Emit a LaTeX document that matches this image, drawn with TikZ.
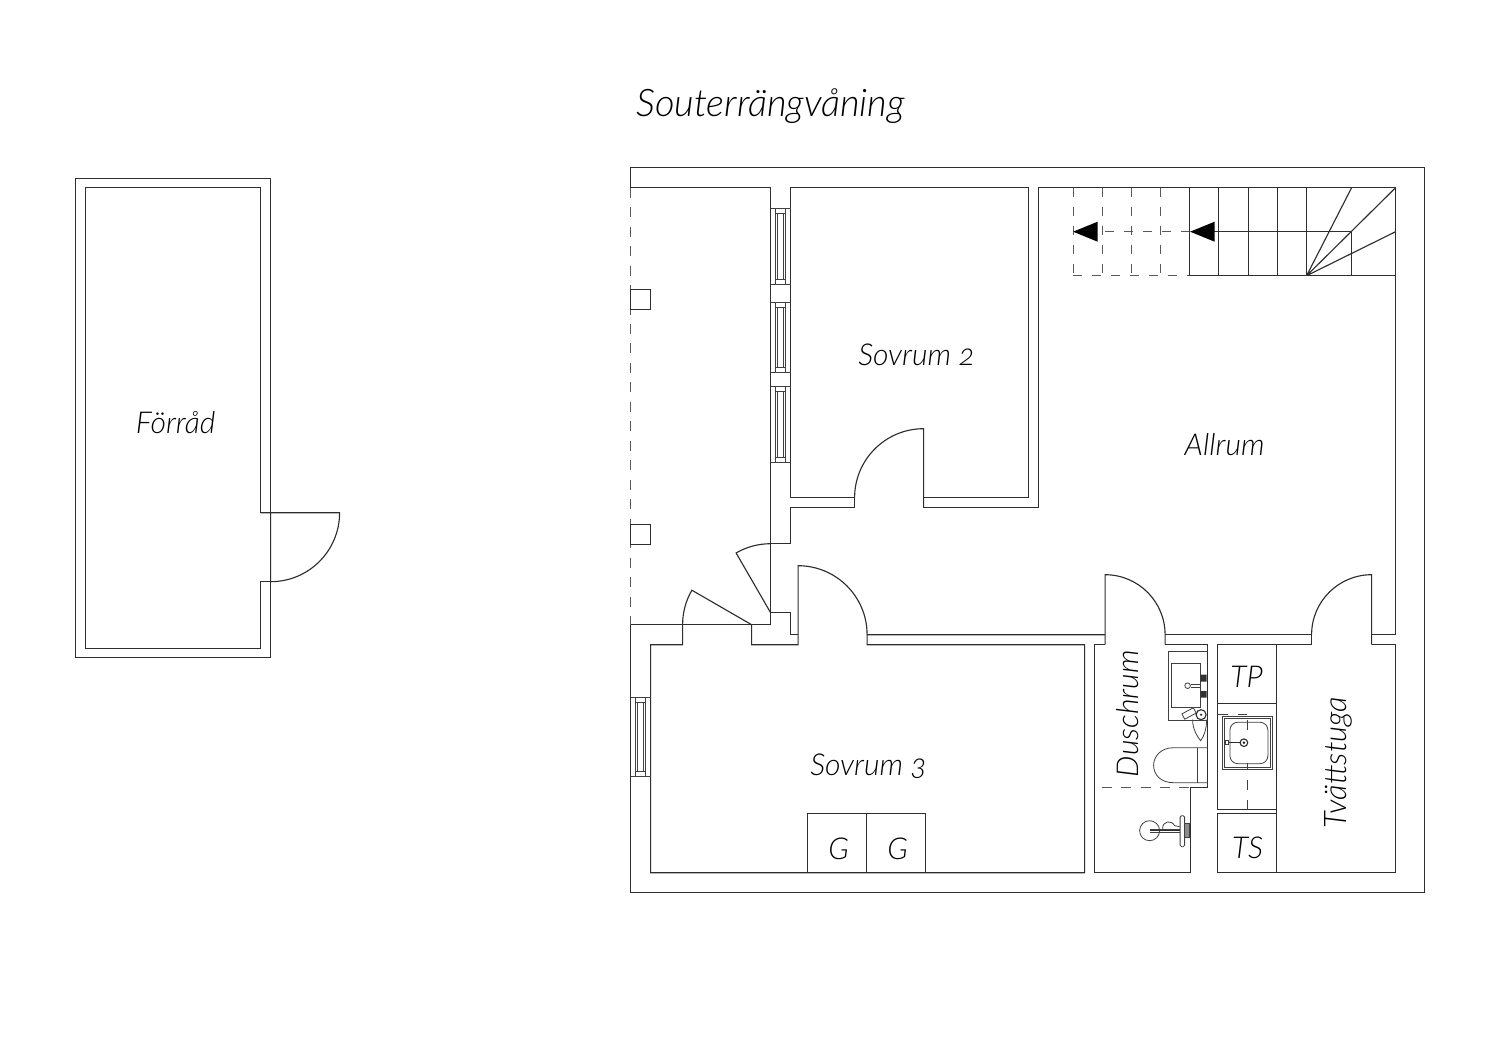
\documentclass[tikz,border=0pt]{standalone}
\usepackage{fontspec}
\setmainfont{Lato}
\newfontfamily\lbl[Numbers=OldStyle]{Lato Light Italic}
\tikzset{
 wall/.style={draw=black!82,line width=0.85pt,line join=miter},
 thin wall/.style={draw=black!75,line width=0.6pt},
 hidden wall/.style={draw=black!65,line width=0.85pt,dash pattern=on 7.5pt off 7.1pt},
 label text/.style={inner sep=0pt,text=black},
 room label/.style={label text,font=\lbl\fontsize{22.6}{24}\selectfont},
}
\newcommand{\fpwin}[3]{% x left, y top, y bottom
 \draw[thin wall] (#1,#2) -- ++(20,0) (#1,#3) -- ++(20,0);
 \draw[thin wall] (#1+5,#2) rectangle (#1+14.5,#3);
 \draw[thin wall] (#1+5,#2+5) -- ++(9.5,0) (#1+5,#3-5) -- ++(9.5,0);
 \draw[thin wall] (#1+7,#2+5) -- (#1+7,#3-5) (#1+12.5,#2+5) -- (#1+12.5,#3-5);
}
\begin{document}
\begin{tikzpicture}[x=0.75pt,y=-0.75pt]
\useasboundingbox (0,0) rectangle (1500,1060);
\fill[white] (0,0) rectangle (1500,1060);
\begin{scope}[shift={(-0.4,-0.3)}]

% --- Forrad
\draw[wall] (271,513) -- (271,179) -- (76,179) -- (76,658) -- (271,658) -- (271,582);
\draw[wall] (261,513) -- (261,188) -- (85.5,188) -- (85.5,648.5) -- (261,648.5) -- (261,582) -- (271,582);
\draw[wall] (261,513) -- (340,513) arc[start angle=0,end angle=90,radius=69] -- (271,513);

% --- Outer shell
\draw[wall] (631,188) -- (631,168) -- (1425,168) -- (1425,893) -- (631,893) -- (631,625);
\draw[hidden wall] (631,188) -- (631,625);
\draw[wall] (631,289.5) rectangle (651,309.5);
\draw[wall] (631,525) rectangle (651,545);

% --- Upper-left room
\draw[wall] (631,188) -- (771,188) -- (771,625) -- (631,625);
\draw[wall] (771,613) -- (791,613) -- (791,635) -- (798.5,635);
\draw[wall] (771,544) -- (791,544) -- (791,508) -- (855,508) -- (855,498) -- (791,498) -- (791,188) -- (1029,188) -- (1029,498) -- (924,498) -- (924,508) -- (1039,508) -- (1039,188) -- (1396,188) -- (1396,635) -- (1372,635);
\draw[wall] (855,498) arc[start angle=180,end angle=270,radius=69] -- (924,508);

% doors of the upper-left room
\draw[wall] (771,613) -- (736.5,553.25) arc[start angle=240,end angle=270,radius=69];
\draw[wall] (752,625) -- (692.25,590.5) arc[start angle=210,end angle=180,radius=69] -- (683,645) -- (651,645) -- (651,873) -- (1085,873) -- (1085,645) -- (867.5,645) -- (867.5,635) -- (1105.5,635);
\draw[wall] (752,625) -- (752,645) -- (798.5,645) -- (798.5,566) arc[start angle=270,end angle=360,radius=69];

% windows
\fpwin{771}{209}{285}
\fpwin{771}{302.5}{373}
\fpwin{771}{387}{463}
\fpwin{631}{698}{777}

% --- Stairs
\draw[hidden wall,dash pattern=on 6.75pt off 7.5pt] (1073.5,276) -- (1190,276);
\draw[hidden wall,dash pattern=on 6.75pt off 7.5pt] (1190,232) -- (1073.5,232);
\foreach \sx in {1073.5,1102.7,1132,1161}{
 \draw[hidden wall,dash pattern=on 6.75pt off 7.5pt] (\sx,188) -- (\sx,276);
}
\foreach \sx in {1190.3,1219.3,1248.7,1278,1307}{
 \draw[wall] (\sx,188) -- (\sx,276);
}
\draw[wall] (1190,276) -- (1396,276);
\draw[wall] (1200,232) -- (1352,232) -- (1352,276);
\draw[wall] (1307,276) -- (1352,188) (1307,276) -- (1396,188) (1307,276) -- (1396,232);
\fill[black] (1073.5,232) -- (1098,222) -- (1098,242) -- cycle;
\fill[black] (1190.5,232) -- (1215,222) -- (1215,242) -- cycle;

% --- Duschrum
\draw[wall] (1105.5,645) -- (1105.5,575) arc[start angle=270,end angle=360,radius=60] -- (1165.5,645);
\draw[wall] (1095,873) -- (1095,645) -- (1105.5,645);
\draw[wall] (1165.5,635) -- (1312,635);
\draw[wall] (1165.5,645) -- (1208,645) -- (1208,788) -- (1190.5,788) -- (1190.5,873) -- (1095,873);
\draw[hidden wall] (1102,788) -- (1190,788);
% shower unit
\draw[thin wall] (1208,652) -- (1168.5,652) -- (1168.5,721) -- (1208,721);
\draw[thin wall] (1172,664) rectangle (1201,708);
\draw[thin wall] (1201,684.5) -- (1191,684.5) (1201,687.5) -- (1191,687.5);
\draw[thin wall,fill=white] (1188,686) circle[radius=2.8];
\fill[black!80] (1201,675) rectangle (1207,682) (1201,691.5) rectangle (1207,698);
\draw[thin wall,fill=white,rotate around={28:(1189,714)}] (1183,711) rectangle (1196,717);
\draw[thin wall] (1193,720) .. controls (1193,730) and (1198,737) .. (1201,741) .. controls (1204,737) and (1207,730) .. (1207,720);
\draw[wall,fill=white] (1201.5,715) circle[radius=5];
\fill[black!80] (1201.5,715) circle[radius=1.3];
% toilet
\draw[thin wall] (1208,748) -- (1174,748) .. controls (1161,748) and (1154,757) .. (1154,765.5) .. controls (1154,775) and (1161,783) .. (1174,783) -- (1208,783);
\draw[thin wall] (1197.5,748) -- (1197.5,783);
% wash basin
\draw[thin wall] (1150,831) circle[radius=10];
\draw[thin wall] (1150,829.5) -- (1187,829.5) (1150,832.5) -- (1187,832.5);
\draw[thin wall] (1163,829) .. controls (1163,821) and (1172,820) .. (1175,826) -- (1180,827);
\draw[wall,line width=1pt] (1150,831) -- (1180,831);
\draw[thin wall,fill=white,rounded corners=1.1pt] (1180.5,816) rectangle (1185,847);
\draw[thin wall,fill=black!45] (1185,824) rectangle (1190,838);

% --- Laundry
\draw[wall] (1217.5,810) -- (1217.5,645) -- (1312,645) -- (1312,635);
\draw[wall] (1372,645) -- (1396,645) -- (1396,873) -- (1217.5,873) -- (1217.5,814) -- (1277,814);
\draw[wall] (1277,645) -- (1277,873);
\draw[wall] (1217.5,810) -- (1277,810);
\draw[wall] (1217.5,703.5) -- (1277,703.5);
\draw[wall] (1312,635) arc[start angle=180,end angle=270,radius=60] -- (1372,645);
\draw[thin wall] (1217.5,714.5) -- (1228,714.5) (1238,714.5) -- (1247,714.5);
\draw[thin wall] (1223,717) rectangle (1272.7,769.5);
\draw[thin wall] (1225,719) rectangle (1270.7,767.5);
\draw[thin wall,rounded corners=6pt] (1230.3,722.5) rectangle (1268.3,764);
\draw[thin wall,line width=0.75pt] (1247.5,720) -- (1247.5,730) (1247.5,763) -- (1247.5,769) (1247.5,780) -- (1247.5,790) (1247.5,800) -- (1247.5,810);
\draw[wall,line width=1.1pt] (1229,743) -- (1241,743);
\draw[thin wall] (1226,741) rectangle (1229,745);
\draw[wall,fill=white] (1244.3,743) circle[radius=3.8];
\fill[black!85] (1244.3,743) circle[radius=1.4];

% --- Garages
\draw[wall] (808,873) -- (808,814) -- (926,814) -- (926,873) (867,814) -- (867,873);

% --- Labels
\node[label text,font=\lbl\fontsize{28.5}{30}\selectfont] (title) at (771,106.5) {Souterrängvåning};
\node[room label] (forrad) at (176,423) {Förråd};
\node[room label] (sov2) at (917,355) {Sovrum 2};
\node[room label] (allrum) at (1225,445) {Allrum};
\node[room label] (sov3) at (869,767) {Sovrum 3};
\node[room label,rotate=90] (dusch) at (1128,714) {Duschrum};
\node[room label,font=\lbl\fontsize{23.3}{24}\selectfont,rotate=90] (tvatt) at (1339,763) {Tvättstuga};
\node[room label] (tp) at (1247,677) {TP};
\node[room label] (ts) at (1248,848) {TS};
\node[room label] (g1) at (839,849) {G};
\node[room label] (g2) at (898,849) {G};
\end{scope}
\end{tikzpicture}
\end{document}
